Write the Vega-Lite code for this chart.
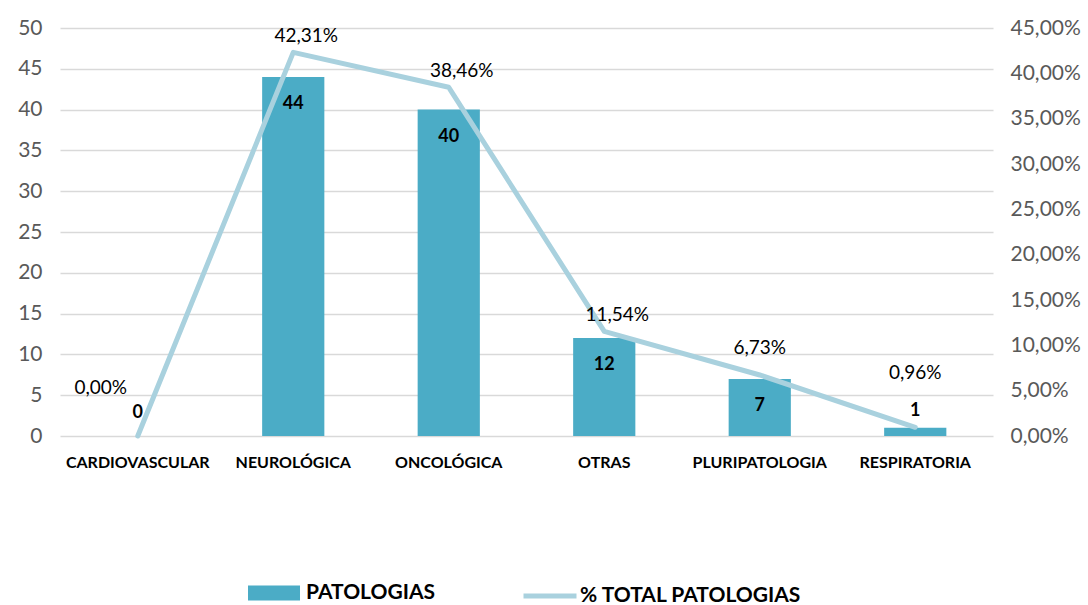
{
  "$schema": "https://vega.github.io/schema/vega-lite/v6.json",
  "autosize": {"type": "none"},
  "width": 933,
  "height": 408,
  "padding": {"left": 60, "top": 28, "right": 95, "bottom": 169},
  "background": "white",
  "config": {
    "locale": {"number": {"decimal": ",", "thousands": ".", "grouping": [3], "currency": ["", " €"]}},
    "view": {"stroke": null},
    "font": "Lato"
  },
  "data": {
    "values": [
      {"cat": "CARDIOVASCULAR", "n": 0, "pct": 0.0},
      {"cat": "NEUROLÓGICA", "n": 44, "pct": 0.4231},
      {"cat": "ONCOLÓGICA", "n": 40, "pct": 0.3846},
      {"cat": "OTRAS", "n": 12, "pct": 0.1154},
      {"cat": "PLURIPATOLOGIA", "n": 7, "pct": 0.0673},
      {"cat": "RESPIRATORIA", "n": 1, "pct": 0.0096}
    ]
  },
  "encoding": {
    "x": {
      "field": "cat", "type": "nominal", "sort": null,
      "scale": {"paddingInner": 0.6, "paddingOuter": 0.3},
      "axis": {"title": null, "labelAngle": 0, "domain": false, "ticks": false, "labelFont": "Lato", "labelFontWeight": "bold", "labelFontSize": 16, "labelColor": "#000000", "labelPadding": 18}
    }
  },
  "layer": [
    {
      "layer": [
        {
          "mark": {"type": "bar", "color": "#4bacc6"},
          "encoding": {
            "y": {"field": "n", "type": "quantitative", "scale": {"domain": [0, 50], "nice": false},
              "axis": {"title": null, "values": [0, 5, 10, 15, 20, 25, 30, 35, 40, 45, 50], "domain": false, "ticks": false, "grid": true, "gridColor": "#d9d9d9", "gridWidth": 1.5, "labelFontSize": 21, "labelColor": "#595959", "labelPadding": 18, "labelFont": "Lato"}},
            "fill": {"datum": "PATOLOGIAS", "type": "nominal", "scale": {"range": ["#4bacc6"]},
              "legend": {"title": null, "orient": "none", "legendX": 188, "legendY": 539, "symbolType": "M-1,-0.29H1V0.29H-1Z", "symbolSize": 2704, "symbolStrokeWidth": 0, "labelFontSize": 21, "labelFontWeight": "bold", "labelColor": "#000000", "labelFont": "Lato", "labelOffset": 6, "labelLimit": 400}}
          }
        },
        {
          "transform": [{"filter": "datum.n >= 5"}],
          "mark": {"type": "text", "baseline": "middle", "dy": 27, "fontWeight": "bold", "fontSize": 18, "color": "#000000"},
          "encoding": {"y": {"field": "n", "type": "quantitative"}, "text": {"field": "n", "type": "quantitative"}}
        },
        {
          "transform": [{"filter": "datum.n < 5 && datum.n > 0"}],
          "mark": {"type": "text", "baseline": "middle", "dy": -17, "fontWeight": "bold", "fontSize": 18, "color": "#000000"},
          "encoding": {"y": {"field": "n", "type": "quantitative"}, "text": {"field": "n", "type": "quantitative"}}
        },
        {
          "transform": [{"filter": "datum.n == 0"}],
          "mark": {"type": "text", "baseline": "middle", "dy": -23, "fontWeight": "bold", "fontSize": 18, "color": "#000000"},
          "encoding": {"y": {"field": "n", "type": "quantitative"}, "text": {"field": "n", "type": "quantitative"}}
        }
      ]
    },
    {
      "layer": [
        {
          "mark": {"type": "line", "strokeWidth": 5, "strokeCap": "round", "strokeJoin": "round"},
          "encoding": {
            "y": {"field": "pct", "type": "quantitative", "scale": {"domain": [0, 0.45], "nice": false},
              "axis": {"title": null, "orient": "right", "values": [0, 0.05, 0.1, 0.15, 0.2, 0.25, 0.3, 0.35, 0.4, 0.45], "format": ".2%", "domain": false, "ticks": false, "grid": false, "labelFontSize": 21, "labelColor": "#595959", "labelPadding": 17, "labelFont": "Lato"}},
            "stroke": {"datum": "% TOTAL PATOLOGIAS", "type": "nominal", "scale": {"range": ["#a9d1de"]},
              "legend": {"title": null, "orient": "none", "legendX": 461, "legendY": 539, "symbolType": "stroke", "symbolSize": 2809, "symbolStrokeWidth": 5, "labelFontSize": 21, "labelFontWeight": "bold", "labelColor": "#000000", "labelFont": "Lato", "labelOffset": 1, "labelLimit": 400}}
          }
        },
        {
          "transform": [{"filter": "datum.pct >= 0.1"}],
          "mark": {"type": "text", "baseline": "middle", "dx": 13, "dy": -16, "fontSize": 19, "color": "#000000"},
          "encoding": {"y": {"field": "pct", "type": "quantitative"}, "text": {"field": "pct", "type": "quantitative", "format": ".2%"}}
        },
        {
          "transform": [{"filter": "datum.pct > 0.05 && datum.pct < 0.1"}],
          "mark": {"type": "text", "baseline": "middle", "dy": -27, "fontSize": 19, "color": "#000000"},
          "encoding": {"y": {"field": "pct", "type": "quantitative"}, "text": {"field": "pct", "type": "quantitative", "format": ".2%"}}
        },
        {
          "transform": [{"filter": "datum.pct > 0 && datum.pct <= 0.05"}],
          "mark": {"type": "text", "baseline": "middle", "dy": -54, "fontSize": 19, "color": "#000000"},
          "encoding": {"y": {"field": "pct", "type": "quantitative"}, "text": {"field": "pct", "type": "quantitative", "format": ".2%"}}
        },
        {
          "transform": [{"filter": "datum.pct == 0"}],
          "mark": {"type": "text", "baseline": "middle", "dx": -37, "dy": -48, "fontSize": 19, "color": "#000000"},
          "encoding": {"y": {"field": "pct", "type": "quantitative"}, "text": {"field": "pct", "type": "quantitative", "format": ".2%"}}
        }
      ]
    }
  ],
  "resolve": {"scale": {"y": "independent"}}
}
